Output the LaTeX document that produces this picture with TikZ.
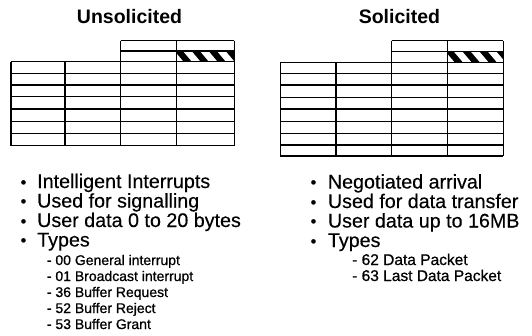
\documentclass[tikz,border=0pt]{standalone}
\usepackage{fontspec}
\setmainfont{Liberation Sans}
\newfontfamily\subfamily[FakeBold=0.8]{Liberation Sans}
\newfontfamily\itemfamily[FakeBold=0.3]{Liberation Sans}
\begin{document}
\begin{tikzpicture}[x=1pt,y=-1pt,
  gridline/.style={line width=1.3pt, black},
  hatchfill/.style={fill=black},
  title/.style={font=\fontsize{19.5}{22}\selectfont\bfseries, inner sep=0pt, anchor=base},
  item/.style={font=\itemfamily\fontsize{19.7}{22}\selectfont, inner sep=0pt, anchor=base west},
  dot/.style={font=\fontsize{17}{20}\selectfont, inner sep=0pt, anchor=base},
  sub/.style={font=\subfamily\fontsize{14}{16}\selectfont, inner sep=0pt, anchor=base west},
  subr/.style={sub, font=\subfamily\fontsize{15.5}{18}\selectfont}]
\useasboundingbox (0,0) rectangle (532,335);

% ---------- titles ----------
\node[title] (tU) at (129.5,23.3) {Unsolicited};
\node[title] (tS) at (399.4,23.3) {Solicited};

% ---------- left grid ----------
\begin{scope}
  \clip (176.7,51) rectangle (234.3,61.7);
  \foreach \k in {0,...,4}
    \fill[hatchfill] ({174.7+17*\k},51) -- ++(8,0) -- ++(9,10.7) -- ++(-8,0) -- cycle;
\end{scope}
\foreach \yy in {61.7,73.3,85,96.7,109,121.3,133.3,145.7}
  \draw[gridline] (11,\yy) -- (234.3,\yy);
\foreach \yy in {40.7,51}
  \draw[gridline] (120.7,\yy) -- (234.3,\yy);
\foreach \xx in {11,65}
  \draw[gridline] (\xx,61.7) -- (\xx,145.7);
\foreach \xx in {120.7,176.7,234.3}
  \draw[gridline] (\xx,40.7) -- (\xx,145.7);

% ---------- right grid ----------
\begin{scope}
  \clip (447.7,51.7) rectangle (503.3,62.3);
  \foreach \k in {0,...,4}
    \fill[hatchfill] ({445.7+17*\k},51.7) -- ++(8,0) -- ++(9,10.6) -- ++(-8,0) -- cycle;
\end{scope}
\foreach \yy in {62.3,73.3,85,97.3,109,121.7,133.5,145,156}
  \draw[gridline] (280.3,\yy) -- (503.3,\yy);
\foreach \yy in {40.7,51.7}
  \draw[gridline] (391.7,\yy) -- (503.3,\yy);
\foreach \xx in {280.3,336}
  \draw[gridline] (\xx,62.3) -- (\xx,156);
\foreach \xx in {391.7,447.7,503.3}
  \draw[gridline] (\xx,40.7) -- (\xx,156);

% ---------- left list ----------
\node[dot] (lb1) at (23.5,188) {•};
\node[dot] (lb2) at (23.5,207.5) {•};
\node[dot] (lb3) at (23.5,227) {•};
\node[dot] (lb4) at (23.5,246.5) {•};
\node[item] (l1) at (37,188) {Intelligent Interrupts};
\node[item] (l2) at (37,207.5) {Used for signalling};
\node[item] (l3) at (37,227) {User data 0 to 20 bytes};
\node[item] (l4) at (37,246.5) {Types};
\node[sub] (ls1) at (46.7,265) {- 00 General interrupt};
\node[sub] (ls2) at (46.7,281) {- 01 Broadcast interrupt};
\node[sub] (ls3) at (46.7,297) {- 36 Buffer Request};
\node[sub] (ls4) at (46.7,313) {- 52 Buffer Reject};
\node[sub] (ls5) at (46.7,329) {- 53 Buffer Grant};

% ---------- right list ----------
\node[dot] (rb1) at (313.5,188.5) {•};
\node[dot] (rb2) at (313.5,208) {•};
\node[dot] (rb3) at (313.5,227.5) {•};
\node[dot] (rb4) at (313.5,247) {•};
\node[item] (r1) at (327.7,188.5) {Negotiated arrival};
\node[item] (r2) at (327.7,208) {Used for data transfer};
\node[item] (r3) at (327.7,227.5) {User data up to 16MB};
\node[item] (r4) at (327.7,247) {Types};
\node[subr] (rs1) at (352,265) {- 62 Data Packet};
\node[subr] (rs2) at (352,281) {- 63 Last Data Packet};
\end{tikzpicture}
\end{document}
